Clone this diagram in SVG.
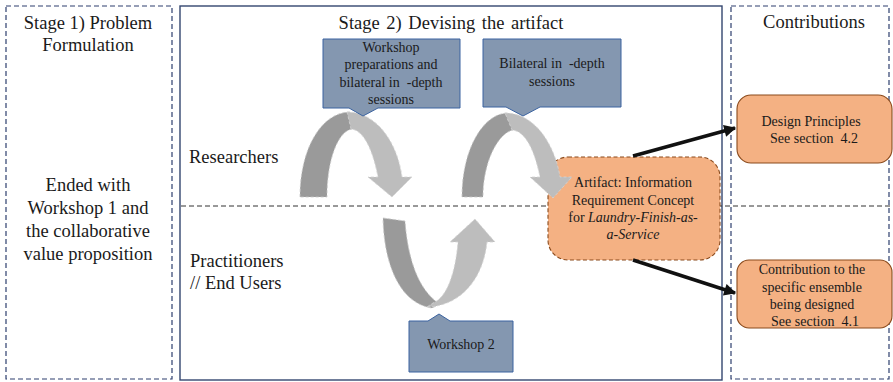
<svg xmlns="http://www.w3.org/2000/svg" width="893" height="382" viewBox="0 0 893 382" font-family="'Liberation Serif', 'Times New Roman', 'DejaVu Serif', serif">
<style>
text{font-family:'Liberation Serif','Times New Roman','DejaVu Serif',serif;fill:#1a1a1a}
.big{font-size:18.5px}
.sm{font-size:14px}
.c{text-anchor:middle}
.frameD{fill:none;stroke:#2E3F6E;stroke-width:1.2;stroke-dasharray:5,3}
.frameS{fill:none;stroke:#34466F;stroke-width:1.4}
.callout{fill:#8497B0;stroke:#3B63A0;stroke-width:1}
.orange{fill:#F4B183;stroke:#8A4A1C;stroke-width:1.1}
.dk{fill:#9A9A9A;stroke:#C8C8C8;stroke-width:0.8;stroke-dasharray:3,2}
.lt{fill:#BDBDBD;stroke:#D4D4D4;stroke-width:0.8;stroke-dasharray:3,2}
.blk{stroke:#111;stroke-width:3.5;fill:none}
</style>
<defs>
<marker id="ah" viewBox="0 0 10 10" refX="9" refY="5" markerWidth="14" markerHeight="12" markerUnits="userSpaceOnUse" orient="auto">
<path d="M0,0 L10,5 L0,10 Z" fill="#111"/>
</marker>
</defs>
<rect width="893" height="382" fill="#fff"/>

<g id="stage1">
<rect class="frameD" x="6" y="6" width="166" height="373"/>
<text class="big c" x="88" y="29">Stage 1) Problem</text>
<text class="big c" x="88" y="51">Formulation</text>
<text class="big c" x="88" y="191">Ended with</text>
<text class="big c" x="88" y="214">Workshop 1 and</text>
<text class="big c" x="88" y="237">the collaborative</text>
<text class="big c" x="88" y="260">value proposition</text>
</g>

<g id="stage2">
<rect class="frameS" x="180" y="6" width="542" height="374"/>
<text class="big c" x="451" y="29" style="word-spacing:2px">Stage 2) Devising the artifact</text>
<line x1="181" y1="206" x2="893" y2="206" stroke="#333" stroke-width="1" stroke-dasharray="5,3"/>
<text class="big" x="189" y="163">Researchers</text>
<text class="big" x="190" y="267">Practitioners</text>
<text class="big" x="190" y="289">// End Users</text>
</g>

<g id="contributions">
<rect class="frameD" x="731" y="6" width="158" height="373"/>
<text class="big c" x="814" y="28">Contributions</text>
</g>

<g id="artifact">
<rect x="548" y="157" width="172" height="103" rx="20" class="orange" style="stroke-dasharray:4,2.5"/>
<text class="sm c" x="633" y="187">Artifact: Information</text>
<text class="sm c" x="633" y="205">Requirement Concept</text>
<text class="sm c" x="633" y="222">for <tspan font-style="italic">Laundry-Finish-as-</tspan></text>
<text class="sm c" x="633" y="239" font-style="italic">a-Service</text>
</g>

<g id="connectors">
<g id="cycle-researchers-1">
<path class="dk" d="M300,197 C300,148 322,112 350,112 L352,129 C338,131 327,160 327,197 Z"/>
<path class="lt" d="M347,112 C378,112 398,145 402,177 L412,177 L392,197 L368,177 L378,177 C373,151 364,130 351,129 Z"/>
</g>
<g id="cycle-researchers-2">
<path class="dk" d="M462,197 C462,148 484,113 508,113 L513,130 C498,133 483,162 483,197 Z"/>
<path class="lt" d="M505,113 C535,113 555,145 560,177 L572,177 L553,198 L530,177 L540,177 C535,152 526,131 512,130 Z"/>
</g>
<g id="cycle-practitioners">
<path class="dk" d="M383,218 L405,221 C408,262 420,292 440,304 L432,308 C402,304 384,268 383,218 Z"/>
<path class="lt" d="M427,307 C460,306 483,280 487,242 L495,242 L475,219 L450,242 L458,242 C455,276 446,298 433,303 Z"/>
</g>
<line class="blk" x1="633" y1="156" x2="735" y2="128" marker-end="url(#ah)"/>
<line class="blk" x1="633" y1="260" x2="735" y2="293" marker-end="url(#ah)"/>
</g>

<g id="callout-workshop-prep">
<path class="callout" d="M323,39 H460 V108 H378 L363,116 L349,108 H323 Z"/>
<text class="sm c" x="391" y="52">Workshop</text>
<text class="sm c" x="391" y="69">preparations and</text>
<text class="sm c" x="391" y="87">bilateral in&#160; -depth</text>
<text class="sm c" x="391" y="104">sessions</text>
</g>

<g id="callout-bilateral">
<path class="callout" d="M483,39 H621 V107 H540 L523,116 L506,107 H483 Z"/>
<text class="sm c" x="552" y="68">Bilateral in&#160; -depth</text>
<text class="sm c" x="552" y="86">sessions</text>
</g>

<g id="callout-workshop2">
<path class="callout" d="M409,321 H428 L439,314 L450,321 H513 V372 H409 Z"/>
<text class="sm c" x="461" y="349">Workshop 2</text>
</g>

<g id="design-principles">
<rect class="orange" x="737" y="95" width="155" height="68" rx="14"/>
<text class="sm c" x="811" y="126">Design Principles</text>
<text class="sm c" x="814" y="143">See section&#160; 4.2</text>
</g>

<g id="contribution-ensemble">
<rect class="orange" x="737" y="260" width="155" height="68" rx="12"/>
<text class="sm c" x="812" y="274">Contribution to the</text>
<text class="sm c" x="812" y="292">specific ensemble</text>
<text class="sm c" x="812" y="309">being designed</text>
<text class="sm c" x="815" y="326">See section&#160; 4.1</text>
</g>
</svg>
